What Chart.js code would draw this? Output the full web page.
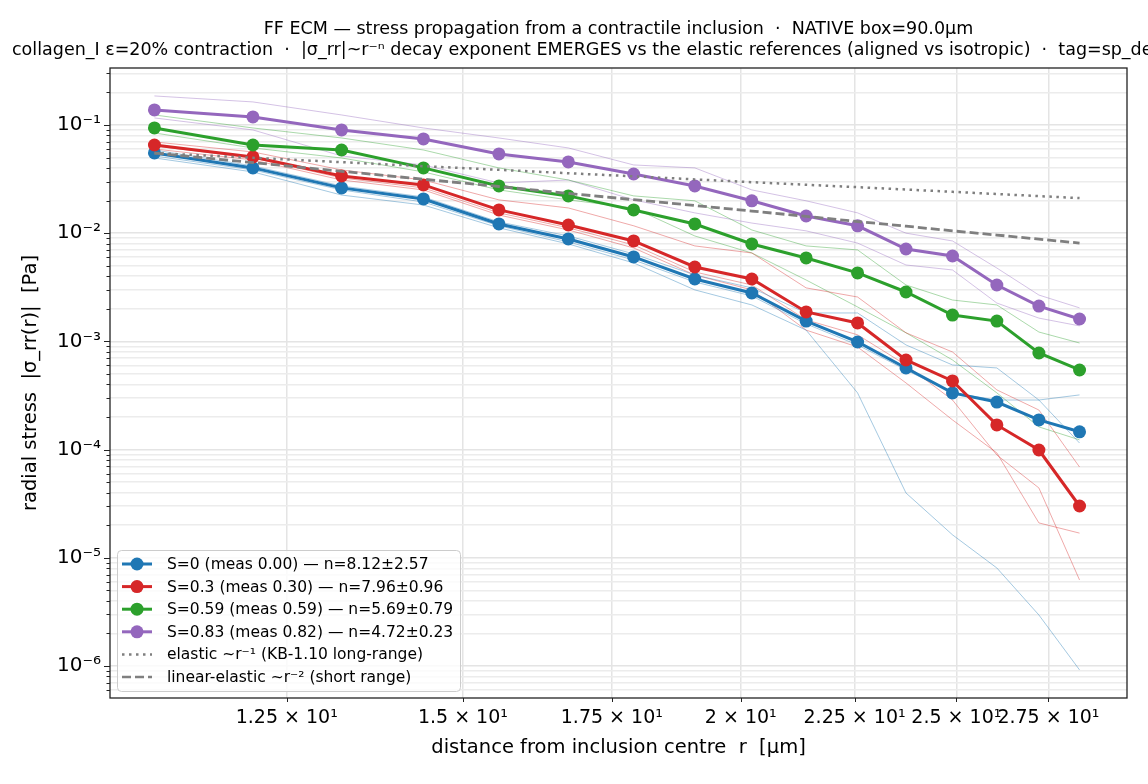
<!DOCTYPE html>
<html>
<head>
<meta charset="utf-8">
<script src="https://cdn.jsdelivr.net/npm/chart.js@4.4.1/dist/chart.umd.min.js"></script>
<style>
  html, body { margin: 0; padding: 0; background: #fff; }
  #wrap { width: 1148px; height: 784px; }
</style>
</head>
<body>
<div id="wrap"><canvas id="c" width="1148" height="784"></canvas></div>
<script>
// radial bin centres [µm]
const rCentres = [10.9, 12.07, 13.23, 14.4, 15.57, 16.73, 17.9, 19.07, 20.23, 21.4, 22.57, 23.73, 24.9, 26.07, 27.23, 28.4];

// ensemble means |sigma_rr| [Pa]
const s0Mean   = [0.0551, 0.0401, 0.0262, 0.0207, 0.01216, 0.00884, 0.00603, 0.00377, 0.0028, 0.00154, 0.000987, 0.000568, 0.000334, 0.000275, 0.000188, 0.000146];
const s03Mean  = [0.0653, 0.0506, 0.0338, 0.0279, 0.0164, 0.0119, 0.00847, 0.00487, 0.00377, 0.00187, 0.00148, 0.000673, 0.000431, 0.000169, 0.0000991, 0.0000301];
const s059Mean = [0.0938, 0.0653, 0.0587, 0.0401, 0.0273, 0.0221, 0.0164, 0.01216, 0.00795, 0.0059, 0.00429, 0.00286, 0.00175, 0.00154, 0.000781, 0.000544];
const s083Mean = [0.1376, 0.1186, 0.0899, 0.0743, 0.054, 0.0455, 0.0352, 0.0273, 0.0199, 0.0144, 0.0117, 0.00714, 0.00615, 0.00332, 0.00212, 0.00161];

// individual seeds (thin lines)
const s0Seed1 = [0.0587, 0.0418, 0.0273, 0.0216, 0.0127, 0.00942, 0.00643, 0.00411, 0.00312, 0.00183, 0.00183, 0.000927, 0.000605, 0.000568, 0.000287, 0.000115];
const s0Seed2 = [0.0517, 0.0384, 0.0251, 0.0194, 0.0117, 0.0083, 0.00565, 0.00354, 0.00263, 0.00145, 0.000927, 0.000544, 0.000334, 0.000287, 0.000287, 0.00032];
const s0Seed3 = [0.0495, 0.0368, 0.0225, 0.0182, 0.0112, 0.00795, 0.00531, 0.00299, 0.00217, 0.00127, 0.000334, 0.0000397, 0.0000163, 0.00000805, 0.00000296, 0.00000092];
const s03Seed1 = [0.0697, 0.0563, 0.0384, 0.031, 0.0203, 0.0171, 0.0117, 0.00762, 0.00656, 0.00312, 0.00257, 0.0012, 0.000798, 0.000356, 0.000232, 0.000069];
const s03Seed2 = [0.064, 0.0495, 0.0324, 0.0262, 0.0154, 0.0112, 0.00778, 0.00438, 0.00332, 0.00158, 0.00115, 0.000605, 0.000287, 0.0000891, 0.0000442, 0.00000624];
const s03Seed3 = [0.06, 0.0475, 0.031, 0.0251, 0.0147, 0.0107, 0.0073, 0.00411, 0.00299, 0.00127, 0.000887, 0.000413, 0.000188, 0.0000931, 0.000021, 0.0000169];
const s059Seed1 = [0.1237, 0.0938, 0.0758, 0.0587, 0.0401, 0.031, 0.0221, 0.0199, 0.0107, 0.00762, 0.007, 0.00332, 0.00241, 0.00217, 0.00122, 0.000966];
const s059Seed2 = [0.0843, 0.0613, 0.0495, 0.0368, 0.0251, 0.0203, 0.0171, 0.00942, 0.00656, 0.00369, 0.00208, 0.0012, 0.000673, 0.000334, 0.000162, 0.000123];
const s083Seed1 = [0.1854, 0.1632, 0.1237, 0.0938, 0.0758, 0.0613, 0.0427, 0.0401, 0.0251, 0.0199, 0.0154, 0.01, 0.00847, 0.00476, 0.00268, 0.00204];
const s083Seed2 = [0.1161, 0.0899, 0.0517, 0.0427, 0.0291, 0.031, 0.0203, 0.0154, 0.0124, 0.0105, 0.0081, 0.00508, 0.00457, 0.00226, 0.00164, 0.00139];

// elastic reference curves
const elasticRef    = [0.055, 0.0497, 0.0453, 0.0416, 0.0385, 0.0358, 0.0335, 0.0314, 0.0296, 0.028, 0.0266, 0.0253, 0.0241, 0.023, 0.022, 0.0211];
const linElasticRef = [0.055, 0.0449, 0.0373, 0.0315, 0.027, 0.0233, 0.0204, 0.018, 0.016, 0.0143, 0.0128, 0.0116, 0.0105, 0.00961, 0.00881, 0.0081];

const xTickValues = [12.5, 15, 17.5, 20, 22.5, 25, 27.5];
const xTickLabels = ['1.25 × 10¹', '1.5 × 10¹', '1.75 × 10¹', '2 × 10¹', '2.25 × 10¹', '2.5 × 10¹', '2.75 × 10¹'];
const yTickValues = [1e-6, 1e-5, 1e-4, 1e-3, 1e-2, 1e-1];
const yTickLabels = ['10⁻⁶', '10⁻⁵', '10⁻⁴', '10⁻³', '10⁻²', '10⁻¹'];

const seriesLabels = [
  'S=0 (meas 0.00) — n=8.12±2.57',
  'S=0.3 (meas 0.30) — n=7.96±0.96',
  'S=0.59 (meas 0.59) — n=5.69±0.79',
  'S=0.83 (meas 0.82) — n=4.72±0.23',
  'elastic ~r⁻¹ (KB-1.10 long-range)',
  'linear-elastic ~r⁻² (short range)',
];
const titleLines = [
  'FF ECM — stress propagation from a contractile inclusion  ·  NATIVE box=90.0μm',
  'collagen_I ε=20% contraction  ·  |σ_rr|~r⁻ⁿ decay exponent EMERGES vs the elastic references (aligned vs isotropic)  ·  tag=sp_default',
];

const BLUE = '#1f77b4', RED = '#d62728', GREEN = '#2ca02c', PURPLE = '#9467bd', GREY = '#7f7f7f';
const FONT = '"DejaVu Sans", sans-serif';
const DOTTED = [2.5, 4.5], DASHED = [9, 4];

function pts(vals) {
  return vals.map((v, i) => ({ x: rCentres[i], y: v }));
}
function alpha(hex, a) {
  const n = parseInt(hex.slice(1), 16);
  return 'rgba(' + (n >> 16) + ',' + ((n >> 8) & 255) + ',' + (n & 255) + ',' + a + ')';
}
function thin(vals, col) {
  return { data: pts(vals), borderColor: alpha(col, 0.4), borderWidth: 1, pointRadius: 0, order: 10 };
}
function main(vals, col, order) {
  return { data: pts(vals), borderColor: col, backgroundColor: col, borderWidth: 3,
    pointRadius: 6.5, pointHoverRadius: 6.5, pointBorderWidth: 0, order: order };
}
function isDecade(v) {
  const l = Math.log10(v);
  return Math.abs(l - Math.round(l)) < 1e-6;
}

const legendStyles = [
  { color: BLUE, marker: true }, { color: RED, marker: true }, { color: GREEN, marker: true },
  { color: PURPLE, marker: true }, { color: GREY, dash: DOTTED }, { color: GREY, dash: DASHED },
];

const decor = {
  id: 'decor',
  afterDraw(chart) {
    const { ctx, chartArea: a, scales: { x, y } } = chart;
    ctx.save();
    // tick marks
    ctx.strokeStyle = '#222';
    ctx.lineWidth = 1;
    y.ticks.forEach(t => {
      const py = Math.round(y.getPixelForValue(t.value)) + 0.5;
      const len = isDecade(t.value) ? 6 : 3.5;
      ctx.beginPath(); ctx.moveTo(a.left - len, py); ctx.lineTo(a.left, py); ctx.stroke();
    });
    x.ticks.forEach(t => {
      const px = Math.round(x.getPixelForValue(t.value)) + 0.5;
      ctx.beginPath(); ctx.moveTo(px, a.bottom); ctx.lineTo(px, a.bottom + 4); ctx.stroke();
    });
    // frame
    ctx.lineWidth = 1.3;
    ctx.strokeRect(a.left, a.top, a.right - a.left, a.bottom - a.top);
    // title (second line is wider than the figure, so it runs off the right edge)
    ctx.fillStyle = '#000';
    ctx.font = '17.5px ' + FONT;
    ctx.textBaseline = 'middle';
    ctx.textAlign = 'center';
    ctx.fillText(titleLines[0], (a.left + a.right) / 2, 29);
    ctx.textAlign = 'left';
    ctx.fillText(titleLines[1], 12, 50);
    // legend
    const lx = 117, ly = 550, lw = 343, lh = 141;
    ctx.fillStyle = 'rgba(255,255,255,0.8)';
    ctx.strokeStyle = '#cccccc';
    ctx.lineWidth = 1;
    ctx.beginPath();
    ctx.roundRect(lx + 0.5, ly + 0.5, lw, lh, 4);
    ctx.fill(); ctx.stroke();
    ctx.font = '15.5px ' + FONT;
    seriesLabels.forEach((lab, i) => {
      const st = legendStyles[i];
      const yy = 564 + i * 22.6;
      ctx.strokeStyle = st.color;
      ctx.lineWidth = st.marker ? 3 : 2.5;
      ctx.setLineDash(st.dash || []);
      ctx.beginPath(); ctx.moveTo(122, yy); ctx.lineTo(152, yy); ctx.stroke();
      ctx.setLineDash([]);
      if (st.marker) {
        ctx.fillStyle = st.color;
        ctx.beginPath(); ctx.arc(137, yy, 6.5, 0, Math.PI * 2); ctx.fill();
      }
      ctx.fillStyle = '#000';
      ctx.fillText(lab, 167, yy + 1);
    });
    ctx.restore();
  }
};

new Chart(document.getElementById('c'), {
  type: 'line',
  data: {
    datasets: [
      { data: pts(elasticRef), borderColor: GREY, borderWidth: 2.5, borderDash: DOTTED, pointRadius: 0, order: 0 },
      { data: pts(linElasticRef), borderColor: GREY, borderWidth: 2.8, borderDash: DASHED, pointRadius: 0, order: 0 },
      main(s0Mean, BLUE, 4),
      main(s03Mean, RED, 3),
      main(s059Mean, GREEN, 2),
      main(s083Mean, PURPLE, 1),
      thin(s0Seed1, BLUE), thin(s0Seed2, BLUE), thin(s0Seed3, BLUE),
      thin(s03Seed1, RED), thin(s03Seed2, RED), thin(s03Seed3, RED),
      thin(s059Seed1, GREEN), thin(s059Seed2, GREEN),
      thin(s083Seed1, PURPLE), thin(s083Seed2, PURPLE),
    ],
  },
  options: {
    responsive: false,
    animation: false,
    devicePixelRatio: 1,
    layout: { padding: { top: 68, right: 21, left: 0, bottom: 0 } },
    plugins: { legend: { display: false }, tooltip: { enabled: false } },
    scales: {
      x: {
        type: 'logarithmic',
        min: 10.41,
        max: 29.83,
        afterBuildTicks: s => { s.ticks = xTickValues.map(v => ({ value: v })); },
        afterFit: s => { s.height = 86; },
        ticks: {
          autoSkip: false, maxRotation: 0, padding: 9, color: '#000',
          font: { family: FONT, size: 19 },
          callback: v => {
            const i = xTickValues.findIndex(t => Math.abs(t - v) < 1e-6);
            return i >= 0 ? xTickLabels[i] : '';
          },
        },
        grid: { color: '#e4e4e4', lineWidth: 1.5, drawTicks: false },
        border: { display: false },
        title: { display: true, text: 'distance from inclusion centre  r  [μm]', color: '#000',
          font: { family: FONT, size: 19.5 }, padding: { top: 0, bottom: 24 } },
      },
      y: {
        type: 'logarithmic',
        min: 5.06e-7,
        max: 0.336,
        afterBuildTicks: s => {
          const t = [];
          for (let e = -7; e <= 0; e++) {
            for (let m = 1; m < 10; m++) {
              const v = m * Math.pow(10, e);
              if (v >= s.min && v <= s.max) t.push({ value: v });
            }
          }
          s.ticks = t;
        },
        afterFit: s => { s.width = 110; },
        ticks: {
          autoSkip: false, padding: 9, color: '#000',
          font: { family: FONT, size: 20 },
          callback: v => {
            const i = yTickValues.findIndex(t => Math.abs(Math.log10(t) - Math.log10(v)) < 1e-6);
            return i >= 0 ? yTickLabels[i] : '';
          },
        },
        grid: {
          drawTicks: false,
          lineWidth: 1.5,
          color: c => (c.tick && isDecade(c.tick.value)) ? '#e4e4e4' : '#ececec',
        },
        border: { display: false },
        title: { display: true, text: 'radial stress  |σ_rr(r)|  [Pa]', color: '#000',
          font: { family: FONT, size: 19.5 }, padding: { top: 19, bottom: 0 } },
      },
    },
  },
  plugins: [decor],
});
</script>
</body>
</html>
